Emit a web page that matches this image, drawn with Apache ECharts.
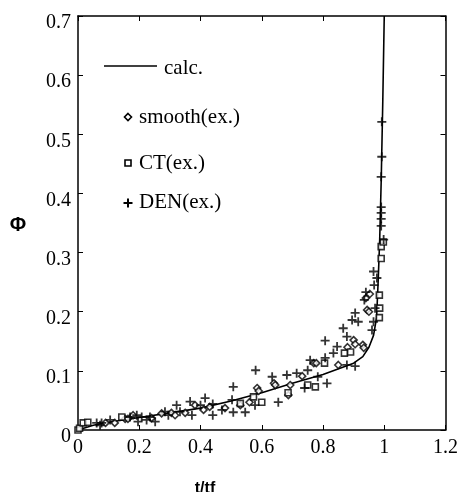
<!DOCTYPE html>
<html>
<head>
<meta charset="utf-8">
<script src="https://cdn.jsdelivr.net/npm/echarts@6/dist/echarts.min.js"></script>
<style>
  html, body { margin: 0; padding: 0; background: #fff; }
  #chart { width: 461px; height: 492px; }
</style>
</head>
<body>
<div id="chart"></div>
<script>
// calculated curve (t/tf, phi)
var calcT   = [0, 0.05, 0.1, 0.2, 0.3, 0.4, 0.5, 0.6, 0.7, 0.8, 0.9, 0.93, 0.95, 0.965, 0.975, 0.98, 0.985, 0.99, 0.995, 1.0];
var calcPhi = [0, 0.008, 0.013, 0.021, 0.029, 0.037, 0.049, 0.063, 0.079, 0.094, 0.113, 0.124, 0.14, 0.16, 0.19, 0.25, 0.32, 0.42, 0.55, 0.7];

// experiments
var smoothPts = [
  [0.09,0.012],[0.12,0.012],[0.154,0.019],[0.163,0.019],[0.18,0.025],[0.24,0.02],
  [0.273,0.028],[0.305,0.029],[0.317,0.025],[0.35,0.029],[0.382,0.042],[0.41,0.034],
  [0.43,0.039],[0.48,0.037],[0.53,0.042],[0.56,0.047],[0.585,0.071],[0.59,0.066],
  [0.64,0.079],[0.644,0.076],[0.687,0.059],[0.693,0.076],[0.732,0.091],[0.77,0.113],
  [0.778,0.113],[0.85,0.11],[0.88,0.14],[0.9,0.152],[0.905,0.145],[0.93,0.144],
  [0.933,0.139],[0.94,0.223],[0.944,0.203],[0.953,0.23],[0.95,0.2]
];
var ctPts = [
  [0,0],[0.005,0.003],[0.017,0.012],[0.032,0.013],[0.143,0.022],[0.53,0.045],
  [0.573,0.056],[0.6,0.047],[0.686,0.063],[0.75,0.076],[0.775,0.073],[0.805,0.113],
  [0.87,0.13],[0.89,0.132],[0.984,0.228],[0.984,0.19],[0.985,0.206],[0.99,0.31],
  [0.997,0.318],[0.99,0.29]
];
var denPts = [
  [0.061,0.012],[0.072,0.008],[0.077,0.012],[0.105,0.017],[0.17,0.022],[0.192,0.025],
  [0.196,0.014],[0.208,0.022],[0.224,0.017],[0.235,0.022],[0.252,0.014],[0.284,0.031],
  [0.295,0.025],[0.322,0.042],[0.333,0.031],[0.366,0.048],[0.372,0.025],[0.4,0.042],
  [0.415,0.054],[0.44,0.025],[0.44,0.044],[0.47,0.034],[0.503,0.051],[0.507,0.03],
  [0.507,0.073],[0.546,0.03],[0.578,0.042],[0.58,0.101],[0.634,0.09],[0.654,0.047],
  [0.682,0.093],[0.714,0.096],[0.74,0.071],[0.75,0.101],[0.758,0.118],[0.783,0.09],
  [0.807,0.122],[0.807,0.151],[0.813,0.079],[0.834,0.13],[0.846,0.141],[0.866,0.172],
  [0.878,0.158],[0.878,0.11],[0.895,0.186],[0.905,0.198],[0.905,0.108],[0.915,0.183],
  [0.935,0.22],[0.94,0.233],[0.96,0.169],[0.965,0.183],[0.965,0.268],[0.967,0.245],
  [0.97,0.206],[0.976,0.257],[0.99,0.345],[0.99,0.357],[0.99,0.367],[0.99,0.377],
  [0.99,0.428],[0.992,0.462],[0.992,0.521],[0.998,0.322]
];

var legendNames = ['calc.', 'smooth(ex.)', 'CT(ex.)', 'DEN(ex.)'];

var serif = 'Liberation Serif';
var plusPath = 'path://M4,0h2v4h4v2h-4v4h-2v-4h-4v-2h4z';

var chart = echarts.init(document.getElementById('chart'));

var axisLine = { show: true, onZero: false, lineStyle: { color: '#000', width: 1.5 } };
var tick = { show: true, inside: true, length: 5, lineStyle: { color: '#000', width: 1 } };

var option = {
  backgroundColor: '#fff',
  animation: false,
  grid: { left: 78, right: 15, top: 16, bottom: 62 },
  xAxis: [{
    type: 'value', min: 0, max: 1.2, interval: 0.2,
    axisLine: axisLine, axisTick: tick, splitLine: { show: false },
    axisLabel: { color: '#000', fontFamily: serif, fontSize: 20, margin: 8,
      formatter: function (v) { return String(Math.round(v * 10) / 10); } }
  }, {
    type: 'value', min: 0, max: 1.2, interval: 0.2, position: 'top',
    axisLine: axisLine, axisTick: tick, splitLine: { show: false },
    axisLabel: { show: false }
  }],
  yAxis: [{
    type: 'value', min: 0, max: 0.7, interval: 0.1,
    axisLine: axisLine, axisTick: tick, splitLine: { show: false },
    axisLabel: { color: '#000', fontFamily: serif, fontSize: 20, margin: 7,
      verticalAlign: 'top', lineHeight: 14,
      formatter: function (v) { return String(Math.round(v * 10) / 10); } }
  }, {
    type: 'value', min: 0, max: 0.7, interval: 0.1, position: 'right',
    axisLine: axisLine, axisTick: tick, splitLine: { show: false },
    axisLabel: { show: false }
  }],
  series: [{
    name: legendNames[0], type: 'line', showSymbol: false, z: 2,
    data: calcT.map(function (t, i) { return [t, calcPhi[i]]; }),
    lineStyle: { color: '#000', width: 1.6 }
  }, {
    name: legendNames[1], type: 'scatter', symbol: 'diamond', symbolSize: 7, z: 3,
    data: smoothPts,
    itemStyle: { color: '#fff', borderColor: '#000', borderWidth: 1.6 }
  }, {
    name: legendNames[2], type: 'scatter', symbol: 'rect', symbolSize: 6, z: 3,
    data: ctPts,
    itemStyle: { color: '#fff', borderColor: '#000', borderWidth: 1.6 }
  }, {
    name: legendNames[3], type: 'scatter', symbol: plusPath, symbolSize: 9, z: 3,
    data: denPts,
    itemStyle: { color: '#000' }
  }],
  graphic: [
    { type: 'line', shape: { x1: 104, y1: 66, x2: 157, y2: 66 }, style: { stroke: '#000', lineWidth: 1.5 } },
    { type: 'text', x: 164, y: 68, style: { text: legendNames[0], font: '21px "Liberation Serif"', fill: '#000', verticalAlign: 'middle' } },
    { type: 'polygon', shape: { points: [[128, 113.5], [131.5, 117], [128, 120.5], [124.5, 117]] }, style: { fill: '#fff', stroke: '#000', lineWidth: 1.6 } },
    { type: 'text', x: 139, y: 117, style: { text: legendNames[1], font: '21px "Liberation Serif"', fill: '#000', verticalAlign: 'middle' } },
    { type: 'rect', shape: { x: 125, y: 160, width: 6, height: 6 }, style: { fill: '#fff', stroke: '#000', lineWidth: 1.6 } },
    { type: 'text', x: 139, y: 163, style: { text: legendNames[2], font: '21px "Liberation Serif"', fill: '#000', verticalAlign: 'middle' } },
    { type: 'rect', shape: { x: 127, y: 198.5, width: 2, height: 9 }, style: { fill: '#000' } },
    { type: 'rect', shape: { x: 123.5, y: 202, width: 9, height: 2 }, style: { fill: '#000' } },
    { type: 'text', x: 139, y: 202, style: { text: legendNames[3], font: '21px "Liberation Serif"', fill: '#000', verticalAlign: 'middle' } },
    { type: 'text', x: 18, y: 225, style: { text: 'Φ', font: 'bold 20px "Liberation Sans"', fill: '#000', align: 'center', verticalAlign: 'middle' } },
    { type: 'text', x: 205, y: 489, style: { text: 't/tf', font: 'bold 16px "Liberation Sans"', fill: '#000', align: 'center', verticalAlign: 'middle' } }
  ]
};

chart.setOption(option);
</script>
</body>
</html>
